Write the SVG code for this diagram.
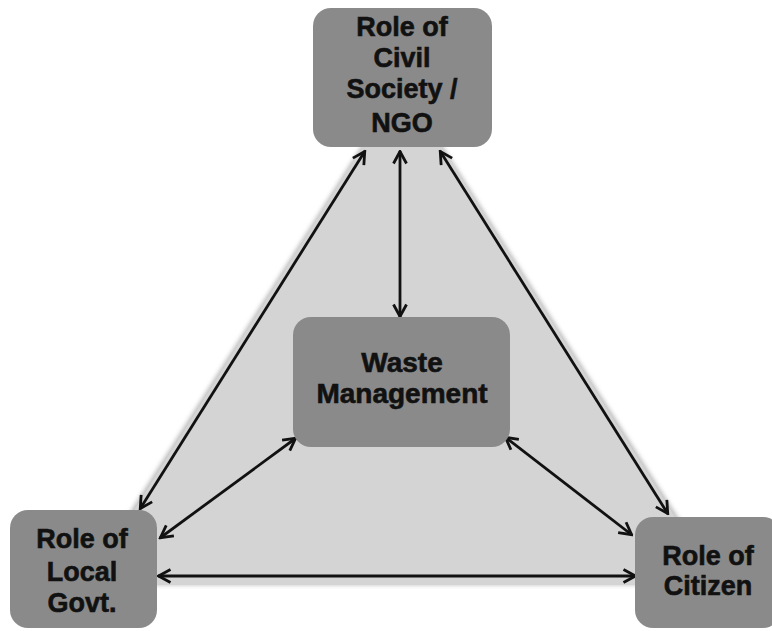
<svg xmlns="http://www.w3.org/2000/svg" width="772" height="631" viewBox="0 0 772 631">
<style>
.node{fill:#8a8a8a;}
.lbl{font-family:"Liberation Sans",Arial,sans-serif;font-weight:bold;font-size:27px;fill:#111;stroke:#111;stroke-width:0.6;text-anchor:middle;}
.conn{stroke:#111;stroke-width:2.8;fill:none;marker-start:url(#ah);marker-end:url(#ah);}
</style>
<defs>
<marker id="ah" viewBox="0 0 16 16" refX="14.5" refY="8" markerWidth="16" markerHeight="16" markerUnits="userSpaceOnUse" orient="auto-start-reverse">
<path d="M2,1.5 L14,8 L2,14.5" fill="none" stroke="#111" stroke-width="2.8"/>
</marker>
<filter id="soft" x="-10%" y="-10%" width="120%" height="120%">
<feGaussianBlur stdDeviation="2"/>
</filter>
</defs>
<rect width="772" height="631" fill="#ffffff"/>
<polygon points="402,82 84,585 721,585" fill="#bdbdbd" filter="url(#soft)"/>
<polygon points="402,84 87,585 718,585" fill="#d4d4d4"/>
<g id="connectors">
<line class="conn" x1="365" y1="151" x2="140" y2="509"/>
<line class="conn" x1="400" y1="151" x2="400" y2="317"/>
<line class="conn" x1="440" y1="151" x2="668" y2="514"/>
<line class="conn" x1="296" y1="438" x2="160" y2="538"/>
<line class="conn" x1="505" y1="437" x2="632" y2="535"/>
<line class="conn" x1="158" y1="576" x2="636" y2="576"/>
</g>
<g id="civil">
<rect class="node" x="313" y="8" width="179" height="139" rx="18"/>
<text class="lbl" x="402" y="36">Role of</text>
<text class="lbl" x="402" y="67">Civil</text>
<text class="lbl" x="402" y="98">Society /</text>
<text class="lbl" x="402" y="132">NGO</text>
</g>
<g id="waste">
<rect class="node" x="293" y="317" width="217" height="130" rx="18"/>
<text class="lbl" x="402" y="372" style="font-size:28px">Waste</text>
<text class="lbl" x="402" y="403" style="font-size:28px">Management</text>
</g>
<g id="local">
<rect class="node" x="10" y="510" width="147" height="118" rx="18"/>
<text class="lbl" x="82" y="548">Role of</text>
<text class="lbl" x="82" y="581">Local</text>
<text class="lbl" x="82" y="612">Govt.</text>
</g>
<g id="citizen">
<rect class="node" x="635" y="517" width="146" height="111" rx="18"/>
<text class="lbl" x="708" y="565">Role of</text>
<text class="lbl" x="708" y="595">Citizen</text>
</g>
</svg>
